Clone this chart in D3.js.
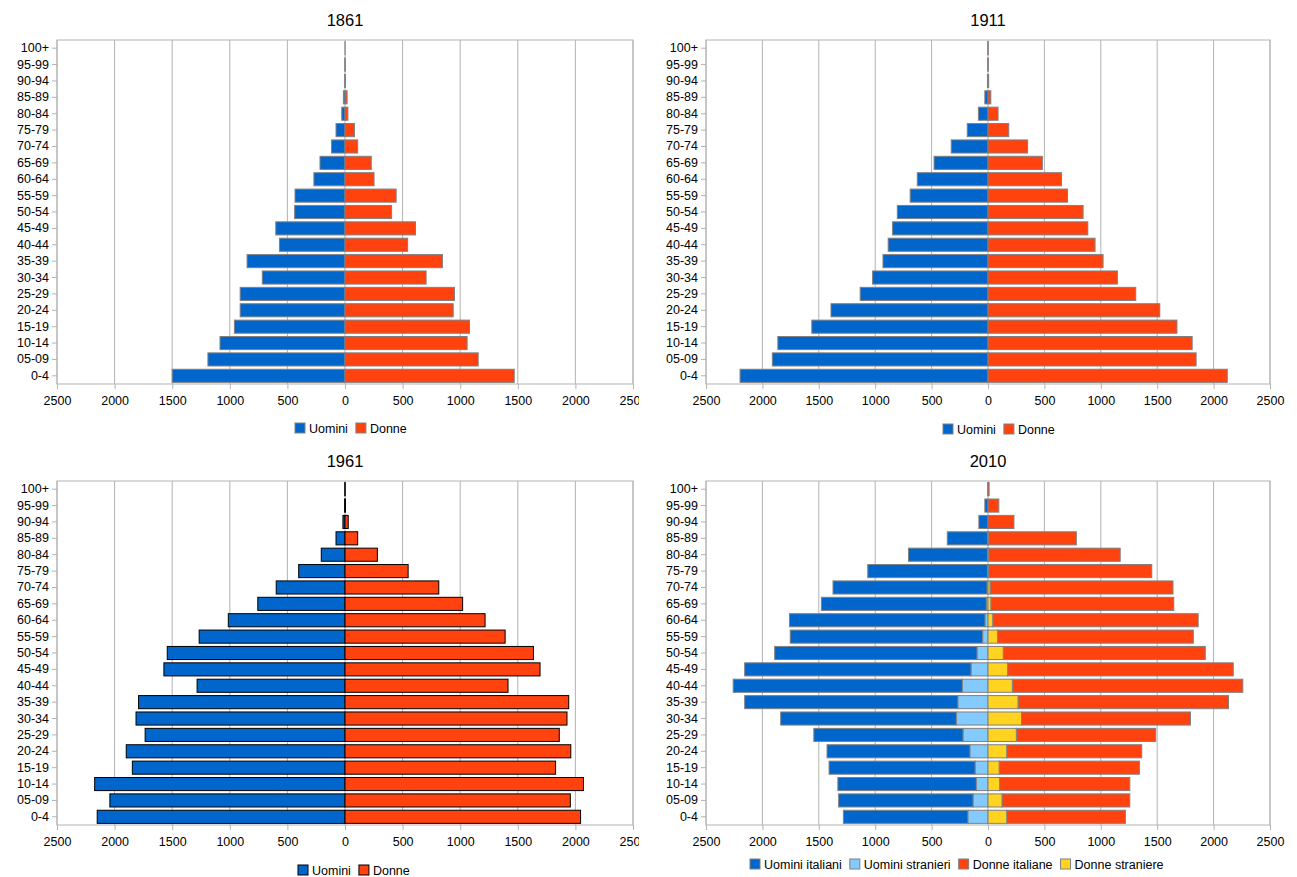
<!DOCTYPE html>
<html><head><meta charset="utf-8">
<script src="https://cdn.jsdelivr.net/npm/d3@7"></script>
<style>body{margin:0;background:#fff}text{font-family:"Liberation Sans",Arial,sans-serif}</style>
</head><body>
<svg id="c" width="1297" height="877"></svg>
<script>
var ages = ['0-4','05-09','10-14','15-19','20-24','25-29','30-34','35-39','40-44','45-49','50-54','55-59','60-64','65-69','70-74','75-79','80-84','85-89','90-94','95-99','100+'];
var ticks = [-2500,-2000,-1500,-1000,-500,0,500,1000,1500,2000,2500];

var men1861   = [1500,1190,1085,960,910,910,718,850,569,601,437,434,270,217,117,78,28,14,2,1,0];
var women1861 = [1469,1156,1060,1081,939,950,704,846,544,612,405,444,252,228,110,82,25,18,4,2,1];
var men1911   = [2198,1912,1863,1562,1392,1133,1023,931,885,846,804,690,627,478,326,184,85,28,5,2,1];
var women1911 = [2121,1845,1810,1675,1523,1310,1147,1020,949,885,843,705,652,482,351,184,89,25,6,2,1];
var men1961   = [2151,2041,2173,1846,1899,1735,1814,1792,1284,1572,1543,1266,1013,757,597,402,206,78,18,3,1];
var women1961 = [2045,1956,2070,1828,1960,1860,1927,1942,1415,1693,1636,1390,1216,1021,814,548,281,110,28,4,1];
var menIt2010    = [1105,1193,1228,1296,1268,1324,1558,1891,2032,2008,1795,1707,1735,1463,1367,1062,703,360,81,28,2];
var menStr2010   = [177,131,103,113,159,220,280,266,227,149,96,46,25,14,7,4,2,1,0,0,0];
var womenIt2010  = [1052,1133,1154,1243,1197,1236,1498,1866,2043,2000,1791,1735,1821,1622,1622,1447,1170,782,230,96,10];
var womenStr2010 = [166,124,103,99,166,251,297,266,216,174,135,85,42,25,18,5,2,1,0,0,0];

var C = {men:'#0066cc', menS:'#83caff', women:'#ff420e', womenS:'#ffd320'};
var svg = d3.select('#c');

function panel(o) {
  var root = svg.append('svg').attr('x', o.x0).attr('y', 0)
    .attr('width', o.clipW).attr('height', 877).style('overflow', 'hidden');
  var g = root.append('g').attr('transform', 'translate(' + (-o.x0) + ',0)');
  var x = d3.scaleLinear().domain([-2500, 2500]).range([o.left, o.right]);
  var y = d3.scaleBand().domain(ages.slice().reverse()).range([o.top, o.bottom]).paddingInner(0.2).paddingOuter(0.1);
  var yb = d3.scaleBand().domain(ages.slice().reverse()).range([o.top, o.bottom]);

  g.append('text').attr('x', x(0)).attr('y', o.top - 14).attr('text-anchor', 'middle')
    .attr('font-size', 16.5).text(o.title);

  g.selectAll('.grid').data(ticks).enter().append('line')
    .attr('x1', d => x(d)).attr('x2', d => x(d)).attr('y1', o.top).attr('y2', o.bottom)
    .attr('stroke', '#b3b3b3');
  g.append('rect').attr('x', o.left).attr('y', o.top).attr('width', o.right - o.left)
    .attr('height', o.bottom - o.top).attr('fill', 'none').attr('stroke', '#b3b3b3');

  var xa = g.append('g').attr('transform', 'translate(0,' + o.bottom + ')')
    .call(d3.axisBottom(x).tickValues(ticks).tickSize(5).tickFormat(d => Math.abs(d)));
  xa.select('.domain').remove();
  xa.selectAll('line').attr('stroke', '#b3b3b3');
  xa.selectAll('text').attr('font-size', 12.5).attr('dy', '1.05em').attr('fill', '#000');

  var ya = g.append('g').attr('transform', 'translate(' + o.left + ',0)')
    .call(d3.axisLeft(yb).tickSize(5));
  ya.select('.domain').remove();
  ya.selectAll('line').attr('stroke', '#b3b3b3');
  ya.selectAll('text').attr('font-size', 12.5).attr('fill', '#000');

  o.series.forEach(function (s) {
    g.append('g').selectAll('rect').data(ages).enter().append('rect')
      .attr('x', (d, i) => x(Math.min(s.from(i), s.to(i))))
      .attr('width', (d, i) => Math.abs(x(s.to(i)) - x(s.from(i))))
      .attr('y', d => y(d)).attr('height', y.bandwidth())
      .attr('fill', s.color).attr('stroke', o.stroke).attr('stroke-width', 1);
  });

  var lg = g.append('g').attr('transform', 'translate(0,' + o.legY + ')');
  var lx = o.legX;
  o.series.forEach(function (s) {
    lg.append('rect').attr('x', lx).attr('y', -9).attr('width', 10).attr('height', 10)
      .attr('fill', s.color).attr('stroke', o.stroke);
    var t = lg.append('text').attr('x', lx + 14).attr('y', 1).attr('font-size', 12.5).text(s.name);
    lx += t.node().getComputedTextLength() + 22;
  });
}

function simple(m, w) {
  return [
    {name: 'Uomini', color: C.men, from: i => 0, to: i => -m[i]},
    {name: 'Donne', color: C.women, from: i => 0, to: i => w[i]}
  ];
}

panel({x0: 0, clipW: 639, left: 57, right: 633, top: 40, bottom: 384, title: '1861',
  stroke: '#808080', legY: 432, legX: 295, series: simple(men1861, women1861)});
panel({x0: 648, clipW: 649, left: 706, right: 1270, top: 40, bottom: 384, title: '1911',
  stroke: '#808080', legY: 433, legX: 943, series: simple(men1911, women1911)});
panel({x0: 0, clipW: 639, left: 57, right: 633, top: 481, bottom: 825, title: '1961',
  stroke: '#000', legY: 874, legX: 298, series: simple(men1961, women1961)});
panel({x0: 648, clipW: 649, left: 706, right: 1270, top: 481, bottom: 825, title: '2010',
  stroke: '#808080', legY: 868, legX: 750, series: [
    {name: 'Uomini italiani', color: C.men, from: i => -menStr2010[i], to: i => -(menStr2010[i] + menIt2010[i])},
    {name: 'Uomini stranieri', color: C.menS, from: i => 0, to: i => -menStr2010[i]},
    {name: 'Donne italiane', color: C.women, from: i => womenStr2010[i], to: i => womenStr2010[i] + womenIt2010[i]},
    {name: 'Donne straniere', color: C.womenS, from: i => 0, to: i => womenStr2010[i]}
  ]});
</script>
</body></html>
